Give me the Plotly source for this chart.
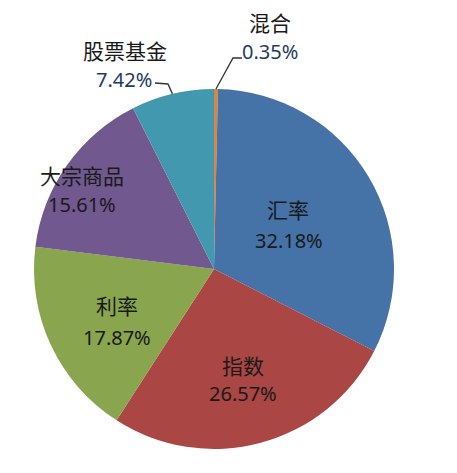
import math
import plotly.graph_objects as go

# data, clockwise from 12 o'clock
categories = ['混合', '汇率', '指数', '利率', '大宗商品', '股票基金']
values = [0.35, 32.18, 26.57, 17.87, 15.61, 7.42]
colors = ['#DB843D', '#4572A7', '#AA4643', '#89A54E', '#71588F', '#4198AF']

OFF = 8  # page body margin, the figure div starts at (8, 8)
W, H = 457 - OFF, 473 - OFF
cx, cy, R = 214, 269, 180  # pie centre / radius in window px

# label block positions in window px (name centre, percent centre)
label_pos = [
    ((270, 22), (270, 52)),
    ((288, 209), (289, 240)),
    ((243, 365), (243, 393)),
    ((117, 305), (117, 337)),
    ((82, 175), (82, 205)),
    ((125, 50), (124, 79)),
]
outside = [0, 5]  # labels drawn outside with leader lines

def px(x, y):
    return (x - OFF) / W, 1 - (y - OFF) / H

x0, y1 = px(cx - R, cy - R)
x1, y0 = px(cx + R, cy + R)

fig = go.Figure(go.Pie(
    labels=categories, values=values, sort=False, direction='clockwise', rotation=0,
    marker=dict(colors=colors, line=dict(width=0)),
    textinfo='none', hoverinfo='label+percent', showlegend=False,
    domain=dict(x=[x0, x1], y=[y0, y1]),
))

name_font = dict(family='Noto Sans CJK SC', size=21, color='#1a1a1a')
annos = []
for i, (name, val) in enumerate(zip(categories, values)):
    (nx, ny), (vx, vy) = label_pos[i]
    x, y = px(nx, ny)
    annos.append(dict(x=x, y=y, xref='paper', yref='paper', text=name, showarrow=False,
                      font=name_font, xanchor='center', yanchor='middle'))
    x, y = px(vx, vy)
    pcol = '#1f3b66' if i in outside else '#1a1a1a'
    annos.append(dict(x=x, y=y, xref='paper', yref='paper', text=f'{val:.2f}%', showarrow=False,
                      font=dict(family='Noto Sans, Noto Sans CJK SC', size=20, color=pcol),
                      xanchor='center', yanchor='middle'))

# leader lines for the two small slices, ending on the rim at mid-slice angle
total = sum(values)
cum = 0
mids = []
for v in values:
    mids.append((cum + v / 2) / total * 2 * math.pi)
    cum += v

shapes = []
elbows = {0: [(242, 58), (233, 58)], 5: [(155, 83), (168, 84)]}
for i in outside:
    ex = cx + R * math.sin(mids[i])
    ey = cy - R * math.cos(mids[i])
    pts = elbows[i] + [(ex, ey)]
    path = 'M ' + ' L '.join('%.4f %.4f' % px(x, y) for x, y in pts)
    shapes.append(dict(type='path', path=path, xref='paper', yref='paper',
                       line=dict(color='#333333', width=1.3)))

fig.update_layout(
    width=W, height=H, margin=dict(l=0, r=0, t=0, b=0),
    paper_bgcolor='white', plot_bgcolor='white',
    annotations=annos, shapes=shapes,
)

fig.write_html("out.html")
